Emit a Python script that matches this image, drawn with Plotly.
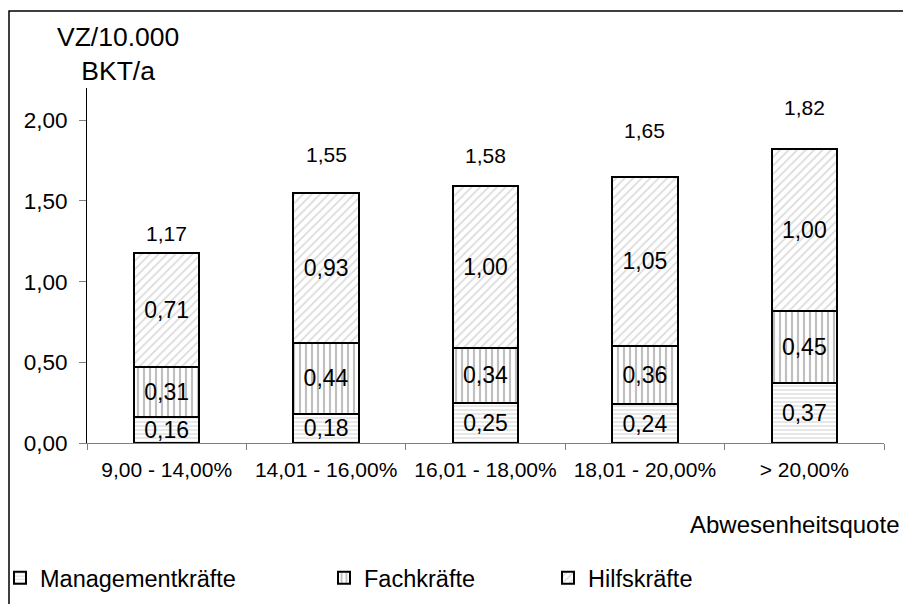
import plotly.graph_objects as go

# Absence-rate bands (x categories)
categories = ["9,00 - 14,00%", "14,01 - 16,00%", "16,01 - 18,00%", "18,01 - 20,00%", "> 20,00%"]

# Full-time equivalents per 10.000 BKT per year, by staff group
management = [0.16, 0.18, 0.25, 0.24, 0.37]
fachkraefte = [0.31, 0.44, 0.34, 0.36, 0.45]
hilfskraefte = [0.71, 0.93, 1.00, 1.05, 1.00]
totals = [1.17, 1.55, 1.58, 1.65, 1.82]

y_ticks = [0.0, 0.5, 1.0, 1.5, 2.0]

FONT = "Arial, Liberation Sans, sans-serif"

# plot-area geometry in pixels (903 x 604 page)
W, H = 903, 604
M_L, M_R, M_T, M_B = 87, 19, 88, 161
PW, PH = W - M_L - M_R, H - M_T - M_B


def de(v):
    return f"{v:.2f}".replace(".", ",")


series = [
    ("Managementkräfte", management, dict(shape="-", size=4, solidity=0.25, fgcolor="#a0a0a0"), "legend"),
    ("Fachkräfte", fachkraefte, dict(shape="|", size=6, solidity=0.36, fgcolor="#808080"), "legend2"),
    ("Hilfskräfte", hilfskraefte, dict(shape="/", size=6, solidity=0.3, fgcolor="#b8b8b8"), "legend3"),
]

fig = go.Figure()
for name, vals, pat, leg in series:
    fig.add_trace(go.Bar(
        x=categories, y=vals, name=name, legend=leg,
        width=0.41,
        marker=dict(color="white", line=dict(color="black", width=2),
                    pattern=dict(bgcolor="white", fillmode="overlay", **pat)),
        text=[de(v) for v in vals],
        textposition="inside", insidetextanchor="middle", textangle=0,
        textfont=dict(family=FONT, size=23, color="black"),
        hoverinfo="skip",
    ))

# stack totals above the bars (pixel lift per label)
total_label_lift = [21, 38, 33, 46, 42]
for c, t, lift in zip(categories, totals, total_label_lift):
    fig.add_annotation(x=c, y=t, text=de(t), showarrow=False, yanchor="middle",
                       yshift=lift, font=dict(family=FONT, size=21, color="black"))

# y-axis caption
fig.add_annotation(xref="paper", yref="paper", x=(118 - M_L) / PW, y=(443 - 54) / PH,
                   text="VZ/10.000<br>BKT/a", showarrow=False, xanchor="center", yanchor="middle",
                   font=dict(family=FONT, size=26.5, color="black"))
# x-axis caption
fig.add_annotation(xref="paper", yref="paper", x=(901 - M_L) / PW, y=(443 - 524) / PH,
                   text="Abwesenheitsquote", showarrow=False, xanchor="right", yanchor="middle",
                   font=dict(family=FONT, size=24, color="black"))

# outer chart frame (left and top edges visible)
fig.add_shape(type="rect", xref="paper", yref="paper",
              x0=(9 - M_L) / PW, x1=(960 - M_L) / PW,
              y0=(443 - 660) / PH, y1=(443 - 11) / PH,
              line=dict(color="black", width=1.5), fillcolor="rgba(0,0,0,0)", layer="below")

legend_base = dict(orientation="h", xref="container", yref="container", yanchor="middle",
                   y=1 - 578 / H, bgcolor="rgba(0,0,0,0)", borderwidth=0,
                   font=dict(family=FONT, size=23.5, color="black"))

fig.update_layout(
    width=W, height=H,
    margin=dict(l=M_L, r=M_R, t=M_T, b=M_B),
    paper_bgcolor="white", plot_bgcolor="white",
    barmode="stack", bargap=0.59,
    font=dict(family=FONT, size=22, color="black"),
    uniformtext=dict(minsize=23, mode="show"),
    showlegend=True,
    legend=dict(legend_base, x=0.0),
    legend2=dict(legend_base, x=(366 - 42) / W),
    legend3=dict(legend_base, x=(590 - 42) / W),
    xaxis=dict(type="category", tickson="boundaries", ticks="outside", ticklen=6,
               tickcolor="#808080", showline=True, linecolor="#808080", linewidth=1,
               showgrid=False, tickfont=dict(family=FONT, size=21, color="black"),
               ticklabelstandoff=8),
    yaxis=dict(range=[0, 2.2], tickvals=y_ticks, ticktext=[de(v) for v in y_ticks],
               ticks="outside", ticklen=7, tickcolor="#808080", showline=True,
               linecolor="black", linewidth=1, showgrid=False, zeroline=False,
               tickfont=dict(family=FONT, size=22.5, color="black"), ticklabelstandoff=7),
)

fig.write_html("out.html")
